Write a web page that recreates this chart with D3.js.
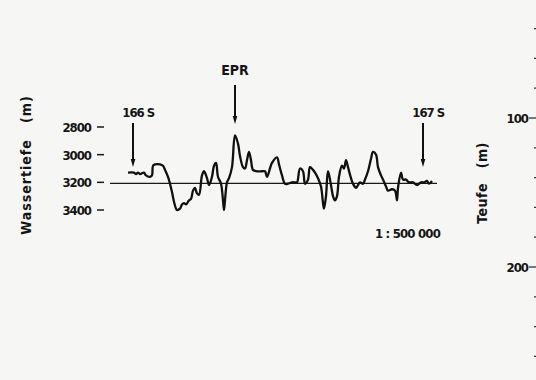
<!DOCTYPE html>
<html>
<head>
<meta charset="utf-8">
<script src="https://cdn.jsdelivr.net/npm/d3@7"></script>
<style>
  html, body { margin: 0; padding: 0; background: #f6f6f4; }
  svg { display: block; }
  text { font-family: "DejaVu Sans Condensed", "Liberation Sans Narrow", sans-serif; fill: #141414; font-weight: bold; }
</style>
</head>
<body>
<svg id="chart" width="536" height="380"></svg>
<script>
// Bathymetric profile across the East Pacific Rise (distance along track, km)
const distanceKm = [0, 3, 4, 5, 6, 8, 9, 11, 12, 12.5, 13.5, 16, 17.5, 18.5, 20, 21, 22, 23, 24.5, 26, 27, 28, 29, 30.5, 31.5, 32.5, 33.5, 34.5, 35.5, 37, 38, 39.5, 40.5, 42, 43, 44, 45, 46.5, 47.5, 48, 48.5, 49.5, 50.5, 52, 53.5, 55, 56, 57.5, 58.5, 59.5, 60.5, 61.5, 62.5, 64.5, 67, 68.5, 69.5, 72, 74.5, 75.5, 77, 78.5, 80, 82, 83.5, 84.5, 86, 87.5, 88.5, 90, 91, 92.5, 93.5, 95, 96.5, 97.5, 98, 99, 100, 101.5, 102.5, 103.5, 104.5, 105.5, 107, 108, 109, 110, 111.5, 112.5, 114, 115, 116, 117.5, 118.5, 120, 121.5, 122.5, 124, 125, 126.5, 127.5, 129, 130, 132, 133.5, 134.5, 135, 136.5, 137.5, 139, 140.5, 142.5, 144.5, 146.5, 148, 149.5, 150.5, 152];
// Water depth (m) at each distance
const depthM = [3130, 3130, 3140, 3130, 3140, 3130, 3150, 3160, 3150, 3080, 3070, 3070, 3080, 3110, 3160, 3210, 3270, 3340, 3400, 3390, 3360, 3350, 3360, 3330, 3320, 3260, 3240, 3280, 3290, 3150, 3120, 3170, 3220, 3160, 3080, 3060, 3160, 3210, 3330, 3400, 3330, 3200, 3170, 3090, 2860, 2920, 3010, 3090, 3100, 3040, 2980, 3040, 3110, 3120, 3120, 3120, 3160, 3060, 3020, 3070, 3150, 3210, 3210, 3200, 3200, 3200, 3100, 3120, 3210, 3180, 3090, 3110, 3130, 3170, 3230, 3350, 3390, 3300, 3120, 3220, 3300, 3330, 3300, 3160, 3080, 3100, 3040, 3090, 3170, 3210, 3240, 3220, 3200, 3210, 3180, 3120, 3030, 2980, 3000, 3090, 3150, 3180, 3230, 3260, 3250, 3260, 3330, 3240, 3130, 3180, 3180, 3200, 3200, 3220, 3200, 3200, 3190, 3210, 3190];

const depthTicks = [2800, 3000, 3200, 3400];
const referenceDepth = 3200;
const lineExtentKm = [-9, 154.5];

const stationNames = ["166", "167"];
const stationKm = [2.5, 147.5];
const ridgeName = "EPR";
const ridgeKm = 53.5;
const scaleText = "1 : 500 000";

// Core depth axis on the right edge (m)
const coreTicks = [0, 20, 40, 60, 80, 100, 120, 140, 160, 180, 200, 220, 240, 260];
const coreLabels = [100, 200];

const svg = d3.select("#chart");

const x = d3.scaleLinear().domain(lineExtentKm).range([110, 437]);
const y = d3.scaleLinear().domain([2800, 3400]).range([127, 210]);
const yCore = d3.scaleLinear().domain([100, 200]).range([118, 267]);

// Reference line at 3200 m
svg.append("line")
  .attr("x1", x(lineExtentKm[0])).attr("x2", x(lineExtentKm[1]))
  .attr("y1", y(referenceDepth) + 1).attr("y2", y(referenceDepth) + 1)
  .attr("stroke", "#1a1a1a").attr("stroke-width", 1.2);

// Depth profile
const profile = distanceKm.map((d, i) => [d, depthM[i]]);
svg.append("path")
  .datum(profile)
  .attr("d", d3.line().x(d => x(d[0])).y(d => y(d[1])).curve(d3.curveCatmullRom.alpha(0.5)))
  .attr("fill", "none")
  .attr("stroke", "#101010")
  .attr("stroke-width", 2.3)
  .attr("stroke-linejoin", "round");

// Left depth axis: labels with short dashes
const yAxis = svg.append("g");
depthTicks.forEach(t => {
  yAxis.append("text")
    .attr("x", 91).attr("y", y(t) + 5)
    .attr("text-anchor", "end")
    .attr("font-size", 13)
    .attr("letter-spacing", -1)
    .text(t);
  yAxis.append("line")
    .attr("x1", 97).attr("x2", 104)
    .attr("y1", y(t)).attr("y2", y(t))
    .attr("stroke", "#1a1a1a").attr("stroke-width", 1.5);
});

svg.append("text")
  .attr("transform", `translate(31,${165}) rotate(-90)`)
  .attr("text-anchor", "middle")
  .attr("font-size", 14)
  .attr("letter-spacing", 1)
  .attr("xml:space", "preserve")
  .text("Wassertiefe   (m)");

// Downward arrow helper
function arrow(px, y0, y1) {
  svg.append("line")
    .attr("x1", px).attr("x2", px).attr("y1", y0).attr("y2", y1 - 6)
    .attr("stroke", "#101010").attr("stroke-width", 2);
  svg.append("path")
    .attr("d", `M${px - 2.3},${y1 - 8} L${px + 2.3},${y1 - 8} L${px},${y1} Z`)
    .attr("fill", "#101010");
}

// Station markers
stationNames.forEach((name, i) => {
  const px = x(stationKm[i]);
  const t = svg.append("text")
    .attr("x", px).attr("y", 117)
    .attr("text-anchor", "middle")
    .attr("font-size", 13)
    .attr("letter-spacing", -1)
    .text(name);
  const w = t.node().getComputedTextLength();
  svg.append("text")
    .attr("x", px + w / 2 + 3).attr("y", 117)
    .attr("font-size", 13)
    .text("S");
  arrow(px, 123, 167);
});

// Ridge crest marker
svg.append("text")
  .attr("x", x(ridgeKm)).attr("y", 75)
  .attr("text-anchor", "middle")
  .attr("font-size", 14)
  .text(ridgeName);
arrow(x(ridgeKm), 85, 124);

// Map scale
svg.append("text")
  .attr("x", 440).attr("y", 238)
  .attr("text-anchor", "end")
  .attr("font-size", 13)
  .attr("letter-spacing", -0.8)
  .attr("xml:space", "preserve")
  .text(scaleText);

// Right core-depth axis
svg.append("text")
  .attr("transform", `translate(487,183) rotate(-90)`)
  .attr("text-anchor", "middle")
  .attr("font-size", 14)
  .attr("letter-spacing", 0.5)
  .attr("xml:space", "preserve")
  .text("Teufe   (m)");

const coreAxis = svg.append("g");
coreTicks.forEach(t => {
  const major = coreLabels.includes(t);
  coreAxis.append("line")
    .attr("x1", major ? 529 : 534).attr("x2", 537)
    .attr("y1", yCore(t)).attr("y2", yCore(t))
    .attr("stroke", "#333").attr("stroke-width", 1.3);
});
coreLabels.forEach(t => {
  coreAxis.append("text")
    .attr("x", 528).attr("y", yCore(t) + 5)
    .attr("text-anchor", "end")
    .attr("font-size", 13)
    .attr("letter-spacing", -1)
    .text(t);
});
</script>
</body>
</html>
